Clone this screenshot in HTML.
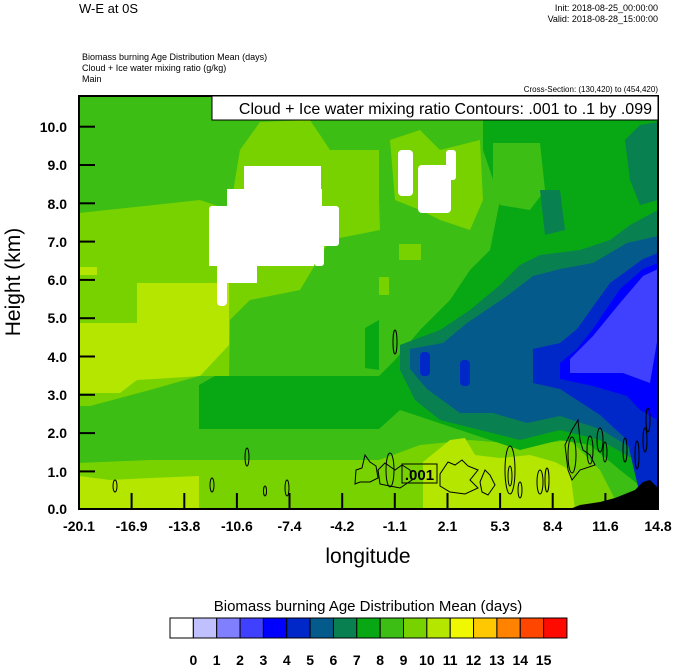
<!DOCTYPE html>
<html><head><meta charset="utf-8"><style>
body{margin:0;background:#fff;}
svg{display:block;font-family:"Liberation Sans",sans-serif;}
</style></head><body>
<svg width="674" height="667" viewBox="0 0 674 667" xmlns="http://www.w3.org/2000/svg">
<defs><clipPath id="pc"><rect x="79" y="96" width="579" height="413"/></clipPath></defs>
<g clip-path="url(#pc)">
<rect x="79" y="96" width="579" height="413" fill="#3cbe14"/>
<polygon fill="#78d200" points="79,213 200,200 230,210 240,150 260,122 310,120 330,150 379,150 379,200 380,230 330,240 300,290 250,300 230,320 229,376 199,376 150,390 90,406 79,406"/>
<polygon fill="#78d200" points="79,463 150,460 379,460 420,445 470,440 530,445 570,440 600,470 620,509 79,509"/>
<polygon fill="#78d200" points="390,140 420,130 440,150 480,140 483,200 470,230 440,220 420,210 395,200"/>
<rect x="379" y="277" width="10" height="18" fill="#78d200"/>
<rect x="399" y="244" width="22" height="16" fill="#78d200"/>
<polygon fill="#b4e600" points="137,283 229,283 229,345 215,360 200,376 170,378 137,380 120,393 79,393 79,323 137,323"/>
<polygon fill="#b4e600" points="79,476 110,480 150,478 199,476 199,509 79,509"/>
<polygon fill="#b4e600" points="423,462 450,440 465,438 475,455 500,458 530,455 555,462 570,470 575,509 423,509"/>
<rect x="79" y="267" width="18" height="8" fill="#b4e600"/>
<polygon fill="#08a814" points="199,385 215,376 379,376 395,360 420,330 450,300 470,270 490,250 500,200 483,150 483,120 658,120 658,500 620,470 590,445 560,440 520,450 490,440 460,430 430,420 400,410 379,429 199,429"/>
<polygon fill="#3cbe14" points="493,143 540,143 545,190 530,210 500,205 493,180"/>
<polygon fill="#08a814" points="365,328 379,320 379,370 365,368"/>
<polygon fill="#088050" points="400,345 440,330 470,310 500,285 520,265 540,255 580,250 610,240 630,225 658,210 658,490 635,460 600,440 560,430 520,440 480,430 440,420 415,400 400,370"/>
<polygon fill="#088050" points="540,190 560,190 565,230 545,235"/>
<polygon fill="#088050" points="625,140 640,125 658,122 658,200 640,205 630,180"/>
<polygon fill="#055a8c" points="410,349 443,343 467,323 507,296 533,276 560,269 593,263 627,243 658,236 658,479 633,449 600,429 560,416 527,423 493,413 460,413 427,389 410,369"/>
<polygon fill="#0028c8" points="533,349 560,343 577,329 610,283 643,259 658,253 658,500 640,495 627,440 600,415 560,389 533,383"/>
<rect x="420" y="352" width="10" height="24" rx="4" fill="#0028c8"/>
<rect x="460" y="360" width="10" height="26" rx="4" fill="#0028c8"/>
<polygon fill="#0000ff" points="560,363 577,349 593,329 620,289 643,269 658,263 658,420 640,410 627,396 593,386 560,379"/>
<polygon fill="#4040ff" points="570,359 593,336 620,303 643,276 658,269 658,336 650,383 623,373 593,373 570,373"/>
<g fill="#fff">
<rect x="244" y="166" width="77" height="30"/>
<rect x="227" y="189" width="95" height="30"/>
<rect x="209" y="206" width="130" height="40" rx="3"/>
<rect x="209" y="240" width="105" height="26"/>
<rect x="217" y="262" width="10" height="44" rx="4"/>
<rect x="227" y="262" width="30" height="21"/>
<rect x="314" y="240" width="10" height="26" rx="3"/>
<rect x="398" y="150" width="15" height="46" rx="4"/>
<rect x="418" y="165" width="33" height="48" rx="4"/>
<rect x="446" y="150" width="10" height="30" rx="3"/>
</g>
<polygon fill="#000" points="570,509 580,505 600,502 615,498 625,494 635,490 643,482 650,480 658,488 658,509"/>
<g fill="none" stroke="#000" stroke-width="1">
<ellipse cx="115" cy="486" rx="2" ry="6"/>
<ellipse cx="212" cy="485" rx="2" ry="7"/>
<ellipse cx="247" cy="457" rx="2" ry="9"/>
<ellipse cx="265" cy="491" rx="1.5" ry="5"/>
<ellipse cx="287" cy="488" rx="2" ry="8"/>
<ellipse cx="395" cy="342" rx="2" ry="12"/>
<path d="M355,484 L356,470 L362,468 L365,455 L370,462 L376,466 L378,478 L370,482 L360,482 Z"/>
<ellipse cx="390" cy="470" rx="4" ry="17"/>
<path d="M378,470 L385,463 L395,470 L402,465 L410,470 L412,480 L400,488 L390,486 L380,484 Z"/>
<path d="M440,474 L448,462 L455,465 L462,460 L468,466 L478,470 L470,480 L478,488 L465,494 L450,492 L440,486 Z"/>
<path d="M480,482 L485,470 L490,475 L495,485 L488,495 L482,492 Z"/>
<ellipse cx="510" cy="470" rx="5" ry="24"/>
<ellipse cx="510" cy="476" rx="2" ry="10"/>
<ellipse cx="540" cy="482" rx="3" ry="12"/>
<ellipse cx="520" cy="490" rx="2" ry="8"/>
<ellipse cx="547" cy="480" rx="2" ry="12"/>
<path d="M568,470 L565,445 L572,430 L578,420 L580,440 L583,450 L590,455 L595,465 L580,470 L572,480 Z"/>
<ellipse cx="572" cy="455" rx="4" ry="18"/>
<ellipse cx="590" cy="450" rx="3" ry="14"/>
<ellipse cx="600" cy="440" rx="3" ry="12"/>
<ellipse cx="605" cy="452" rx="2" ry="10"/>
<ellipse cx="625" cy="450" rx="2" ry="12"/>
<ellipse cx="637" cy="455" rx="2" ry="14"/>
<ellipse cx="645" cy="440" rx="2" ry="12"/>
<ellipse cx="648" cy="420" rx="2" ry="12"/>
</g>
<rect x="402" y="464" width="35" height="19" fill="none" stroke="#000"/>
<text x="419.5" y="480" font-size="15" font-weight="bold" text-anchor="middle" fill="#000">.001</text>
</g>
<rect x="79" y="96" width="579" height="413" fill="none" stroke="#000" stroke-width="2"/>
<rect x="212" y="96" width="446" height="24" fill="#fff" stroke="#000" stroke-width="1"/>
<text x="652" y="114" font-size="16" text-anchor="end">Cloud + Ice water mixing ratio Contours: .001 to .1 by .099</text>
<g stroke="#000" stroke-width="2">
<line x1="79" y1="126.7" x2="95" y2="126.7"/><line x1="79" y1="165" x2="95" y2="165"/><line x1="79" y1="203.3" x2="95" y2="203.3"/><line x1="79" y1="241.6" x2="95" y2="241.6"/><line x1="79" y1="279.9" x2="95" y2="279.9"/><line x1="79" y1="318.2" x2="95" y2="318.2"/><line x1="79" y1="356.5" x2="95" y2="356.5"/><line x1="79" y1="394.8" x2="95" y2="394.8"/><line x1="79" y1="433.1" x2="95" y2="433.1"/><line x1="79" y1="471.4" x2="95" y2="471.4"/>
<line x1="131.6" y1="509" x2="131.6" y2="493"/><line x1="184.3" y1="509" x2="184.3" y2="493"/><line x1="236.9" y1="509" x2="236.9" y2="493"/><line x1="289.5" y1="509" x2="289.5" y2="493"/><line x1="342.2" y1="509" x2="342.2" y2="493"/><line x1="394.8" y1="509" x2="394.8" y2="493"/><line x1="447.5" y1="509" x2="447.5" y2="493"/><line x1="500.1" y1="509" x2="500.1" y2="493"/><line x1="552.7" y1="509" x2="552.7" y2="493"/><line x1="605.4" y1="509" x2="605.4" y2="493"/>
</g>
<g font-size="14" font-weight="bold" text-anchor="end">
<text x="67" y="132">10.0</text><text x="67" y="170">9.0</text><text x="67" y="209">8.0</text><text x="67" y="247">7.0</text><text x="67" y="285">6.0</text><text x="67" y="323">5.0</text><text x="67" y="362">4.0</text><text x="67" y="400">3.0</text><text x="67" y="438">2.0</text><text x="67" y="477">1.0</text><text x="67" y="514">0.0</text>
</g>
<g font-size="14" font-weight="bold" text-anchor="middle">
<text x="79" y="531">-20.1</text><text x="131.6" y="531">-16.9</text><text x="184.3" y="531">-13.8</text><text x="236.9" y="531">-10.6</text><text x="289.5" y="531">-7.4</text><text x="342.2" y="531">-4.2</text><text x="394.8" y="531">-1.1</text><text x="447.5" y="531">2.1</text><text x="500.1" y="531">5.3</text><text x="552.7" y="531">8.4</text><text x="605.4" y="531">11.6</text><text x="658" y="531">14.8</text>
</g>
<text x="368" y="563" font-size="21" text-anchor="middle">longitude</text>
<text transform="translate(20,282) rotate(-90)" font-size="21" text-anchor="middle">Height (km)</text>
<text x="79" y="13" font-size="13">W-E at 0S</text>
<text x="658" y="11" font-size="9" text-anchor="end">Init: 2018-08-25_00:00:00</text>
<text x="658" y="22" font-size="9" text-anchor="end">Valid: 2018-08-28_15:00:00</text>
<text x="82" y="60" font-size="9">Biomass burning Age Distribution Mean    (days)</text>
<text x="82" y="71" font-size="9">Cloud + Ice water mixing ratio    (g/kg)</text>
<text x="82" y="82" font-size="9">Main</text>
<text x="658" y="92" font-size="8" text-anchor="end">Cross-Section: (130,420) to (454,420)</text>
<text x="368" y="611" font-size="15" text-anchor="middle">Biomass burning Age Distribution Mean  (days)</text>
<g stroke="#000" stroke-width="1">
<rect x="170" y="618" width="23.35" height="20" fill="#ffffff"/>
<rect x="193.35" y="618" width="23.35" height="20" fill="#c0c0ff"/>
<rect x="216.7" y="618" width="23.35" height="20" fill="#8080ff"/>
<rect x="240.05" y="618" width="23.35" height="20" fill="#4040ff"/>
<rect x="263.4" y="618" width="23.35" height="20" fill="#0000ff"/>
<rect x="286.75" y="618" width="23.35" height="20" fill="#0028c8"/>
<rect x="310.1" y="618" width="23.35" height="20" fill="#055a8c"/>
<rect x="333.45" y="618" width="23.35" height="20" fill="#088050"/>
<rect x="356.8" y="618" width="23.35" height="20" fill="#08a814"/>
<rect x="380.15" y="618" width="23.35" height="20" fill="#3cbe14"/>
<rect x="403.5" y="618" width="23.35" height="20" fill="#78d200"/>
<rect x="426.85" y="618" width="23.35" height="20" fill="#b4e600"/>
<rect x="450.2" y="618" width="23.35" height="20" fill="#f0f800"/>
<rect x="473.55" y="618" width="23.35" height="20" fill="#ffc800"/>
<rect x="496.9" y="618" width="23.35" height="20" fill="#ff8200"/>
<rect x="520.25" y="618" width="23.35" height="20" fill="#ff4600"/>
<rect x="543.6" y="618" width="23.35" height="20" fill="#ff0a00"/>
</g>
<g font-size="14" font-weight="bold" text-anchor="middle">
<text x="193.35" y="665">0</text><text x="216.7" y="665">1</text><text x="240.05" y="665">2</text><text x="263.4" y="665">3</text><text x="286.75" y="665">4</text><text x="310.1" y="665">5</text><text x="333.45" y="665">6</text><text x="356.8" y="665">7</text><text x="380.15" y="665">8</text><text x="403.5" y="665">9</text><text x="426.85" y="665">10</text><text x="450.2" y="665">11</text><text x="473.55" y="665">12</text><text x="496.9" y="665">13</text><text x="520.25" y="665">14</text><text x="543.6" y="665">15</text>
</g>
</svg>
</body></html>
